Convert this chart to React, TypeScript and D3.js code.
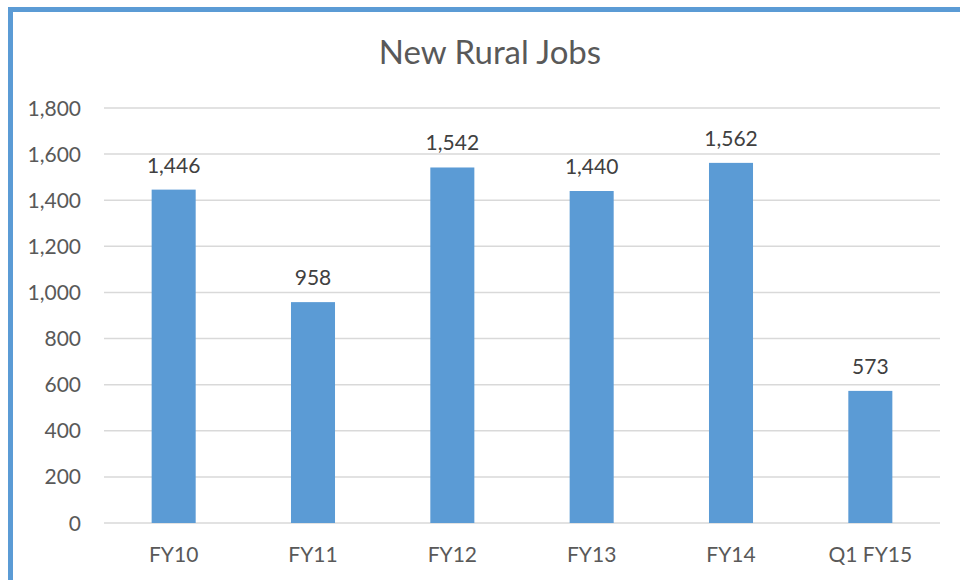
import React from "react";
import * as d3 from "d3";

const categories = ["FY10", "FY11", "FY12", "FY13", "FY14", "Q1 FY15"];
const values = [1446, 958, 1542, 1440, 1562, 573];
const yTicks = [0, 200, 400, 600, 800, 1000, 1200, 1400, 1600, 1800];
const title = "New Rural Jobs";

export default function App() {
  const W = 960, H = 580;
  const left = 104, right = 940, top = 108, bottom = 523;
  const x = d3.scaleBand<string>().domain(categories).range([left, right]).padding(0);
  const y = d3.scaleLinear().domain([0, 1800]).range([bottom, top]);
  const bw = x.bandwidth() * 0.316;
  const fmt = d3.format(",");
  const font = "Lato, 'Open Sans', sans-serif";
  const grey = "#595959";
  return (
    <svg width={W} height={H} style={{ position: "absolute", left: 0, top: 0, background: "#fff" }}>
      <rect x={0} y={0} width={W} height={H} fill="#fff" />
      <rect x={10.5} y={9.5} width={W + 20} height={H + 20} fill="none" stroke="#5B9BD5" strokeWidth={5} />
      <text x={490} y={64} textAnchor="middle" fontFamily={font} fontSize={33} fill={grey}>{title}</text>
      {yTicks.map((t) => (
        <g key={t}>
          <line x1={left} x2={right} y1={y(t)} y2={y(t)} stroke="#d9d9d9" strokeWidth={1.5} />
          <text x={81} y={y(t) + 7.5} textAnchor="end" fontFamily={font} fontSize={21} fill={grey}>{fmt(t)}</text>
        </g>
      ))}
      {categories.map((c, i) => {
        const cx = (x(c) as number) + x.bandwidth() / 2;
        return (
          <g key={c}>
            <rect x={cx - bw / 2} y={y(values[i])} width={bw} height={bottom - y(values[i])} fill="#5B9BD5" />
            <text x={cx} y={y(values[i]) - 17} textAnchor="middle" fontFamily={font} fontSize={21} fill="#404040">{fmt(values[i])}</text>
            <text x={cx} y={562} textAnchor="middle" fontFamily={font} fontSize={21} fill={grey}>{c}</text>
          </g>
        );
      })}
    </svg>
  );
}
